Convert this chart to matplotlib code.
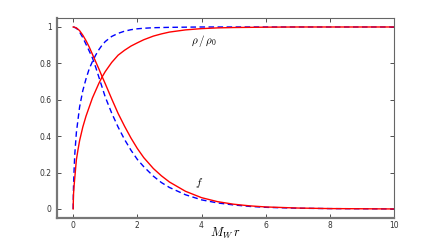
import matplotlib
matplotlib.use("Agg")
import matplotlib.pyplot as plt

plt.rcParams["mathtext.fontset"] = "cm"

# sample positions (M_W r)
r = [0, 0.01, 0.03, 0.05, 0.1, 0.15, 0.2, 0.3, 0.4, 0.5, 0.6, 0.7, 0.8, 0.9, 1.0,
     1.2, 1.4, 1.6, 1.8, 2.0, 2.2, 2.5, 2.75, 3.0, 3.5, 4.0, 4.5, 5.0, 5.5, 6.0,
     7.0, 8.0, 9.0, 10.0]

# solid red curves
f_red = [1.0, 1.0, 0.999, 0.998, 0.995, 0.988, 0.98, 0.955, 0.925, 0.89, 0.85, 0.81,
         0.77, 0.728, 0.688, 0.605, 0.525, 0.455, 0.39, 0.332, 0.282, 0.222, 0.182,
         0.148, 0.097, 0.062, 0.04, 0.026, 0.017, 0.011, 0.005, 0.002, 0.001, 0.0]
rho_red = [0.0, 0.08, 0.13, 0.17, 0.27, 0.325, 0.375, 0.45, 0.51, 0.56, 0.61, 0.65,
           0.69, 0.725, 0.755, 0.805, 0.845, 0.872, 0.895, 0.913, 0.93, 0.95, 0.962,
           0.972, 0.984, 0.991, 0.995, 0.997, 0.998, 0.999, 1.0, 1.0, 1.0, 1.0]

# dashed blue curves
f_blue = [1.0, 1.0, 0.999, 0.997, 0.993, 0.984, 0.972, 0.942, 0.905, 0.868, 0.83,
          0.78, 0.725, 0.67, 0.615, 0.527, 0.45, 0.382, 0.323, 0.272, 0.232, 0.18,
          0.145, 0.118, 0.078, 0.05, 0.033, 0.022, 0.014, 0.009, 0.004, 0.002, 0.001, 0.0]
rho_blue = [0.0, 0.12, 0.22, 0.3, 0.42, 0.49, 0.56, 0.65, 0.715, 0.77, 0.81, 0.845,
            0.875, 0.9, 0.92, 0.948, 0.965, 0.977, 0.985, 0.99, 0.993, 0.996, 0.997,
            0.998, 0.999, 1.0, 1.0, 1.0, 1.0, 1.0, 1.0, 1.0, 1.0, 1.0]

fig = plt.figure(figsize=(4.36, 2.45), dpi=100)
ax = fig.add_axes([0.131, 0.110, 0.773, 0.817])

ax.plot(r, f_blue, color="#0000ff", lw=1.0, ls=(0, (4, 2.5)))
ax.plot(r, rho_blue, color="#0000ff", lw=1.0, ls=(0, (4, 2.5)))
ax.plot(r, f_red, color="#ff0000", lw=1.0)
ax.plot(r, rho_red, color="#ff0000", lw=1.0)

ax.set_xlim(-0.5, 10)
ax.set_ylim(-0.05, 1.05)
ax.set_xticks([0, 2, 4, 6, 8, 10])
ax.set_yticks([0, 0.2, 0.4, 0.6, 0.8, 1])
ax.set_xticklabels(["0", "2", "4", "6", "8", "10"])
ax.set_yticklabels(["0", "0.2", "0.4", "0.6", "0.8", "1"])
ax.tick_params(direction="in", top=True, right=True, length=3, width=0.6,
               labelsize=5.5, colors="#333333")
ax.tick_params(axis="x", pad=2)
ax.tick_params(axis="y", pad=4)

for side in ["left", "bottom"]:
    ax.spines[side].set_linewidth(1.6)
    ax.spines[side].set_color("#777777")
for side in ["top", "right"]:
    ax.spines[side].set_linewidth(0.8)
    ax.spines[side].set_color("#666666")

ax.set_xlabel(r"$M_W\, r$", fontsize=9, labelpad=-3)
ax.text(4.07, 0.923, r"$\rho\,/\,\rho_0$", fontsize=8, ha="center", va="center")
ax.text(3.93, 0.14, r"$f$", fontsize=8, ha="center", va="center")

fig.savefig("out.png", dpi=100)
plt.close(fig)
